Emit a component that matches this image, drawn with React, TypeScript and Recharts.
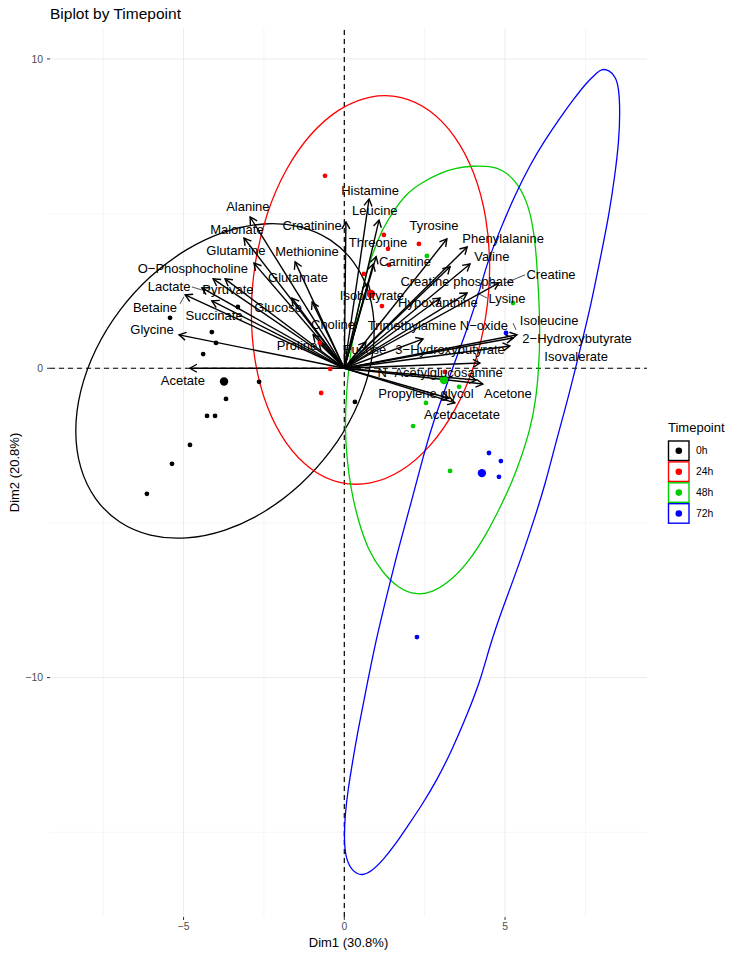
import React from 'react';
import { ComposedChart, XAxis, YAxis, Scatter, Line, ReferenceLine } from 'recharts';

const FONT = '"Liberation Sans", Arial, Helvetica, sans-serif';

const timepoints = ['0h', '24h', '48h', '72h'];
const groupColors = ['#000000', '#FF0000', '#00CD00', '#0000FF'];

// individuals (Dim1, Dim2)
const ind0h = [[-5.42, 1.63], [-3.31, 1.98], [-4.12, 1.17], [-3.99, 0.82], [-4.39, 0.46], [-2.65, -0.44], [-3.68, -0.99], [-4.27, -1.54], [-4.02, -1.54], [-4.80, -2.48], [-5.36, -3.09], [-6.14, -4.06], [0.33, -1.09]];
const ind24h = [[-0.60, 6.22], [1.23, 4.31], [2.32, 4.02], [1.36, 3.86], [1.39, 3.34], [0.61, 3.05], [1.17, 2.01], [-0.76, 0.82], [-0.44, -0.02], [-0.72, -0.80], [3.13, -0.12]];
const ind48h = [[2.57, 3.63], [5.25, 2.11], [3.57, -0.60], [2.54, -1.12], [2.14, -1.87], [3.29, -3.32]];
const ind72h = [[4.50, -2.74], [4.87, -3.00], [4.81, -3.51], [2.26, -8.69], [5.03, 1.14]];
const centroids = [[-3.74, -0.43], [0.83, 2.40], [3.10, -0.38], [4.28, -3.39]];

// concentration ellipse outlines
const ell0h = [[0.983, 1.226], [0.823, 2.432], [0.354, 3.445], [-0.392, 4.194], [-1.364, 4.630], [-2.496, 4.722], [-3.711, 4.465], [-4.926, 3.876], [-6.058, 2.994], [-7.030, 1.880], [-7.776, 0.611], [-8.245, -0.728], [-8.405, -2.046], [-8.245, -3.252], [-7.776, -4.265], [-7.030, -5.014], [-6.058, -5.450], [-4.926, -5.542], [-3.711, -5.285], [-2.496, -4.696], [-1.364, -3.814], [-0.392, -2.700], [0.354, -1.431], [0.823, -0.092]];
const ell24h = [[4.563, 3.295], [4.435, 4.902], [4.061, 6.347], [3.465, 7.532], [2.689, 8.377], [1.785, 8.822], [0.815, 8.840], [-0.155, 8.428], [-1.059, 7.613], [-1.835, 6.452], [-2.431, 5.025], [-2.805, 3.428], [-2.933, 1.769], [-2.805, 0.162], [-2.431, -1.283], [-1.835, -2.468], [-1.059, -3.313], [-0.155, -3.758], [0.815, -3.776], [1.785, -3.364], [2.689, -2.549], [3.465, -1.388], [4.061, 0.039], [4.435, 1.636]];
const ell48h = [[4.003, 6.541], [4.532, 6.541], [4.936, 6.411], [5.309, 6.088], [5.683, 5.441], [5.900, 4.471], [5.994, 3.340], [6.056, 2.208], [6.087, 1.141], [6.056, 0.107], [5.963, -1.025], [5.776, -1.995], [5.527, -2.803], [5.247, -3.611], [4.843, -4.517], [4.407, -5.390], [3.910, -6.198], [3.350, -6.845], [2.728, -7.265], [2.199, -7.329], [1.670, -7.103], [1.173, -6.586], [0.737, -5.875], [0.426, -4.905], [0.208, -3.935], [0.084, -2.965], [0.022, -1.995], [0.053, -1.025], [0.115, -0.217], [0.208, 0.592], [0.364, 1.562], [0.551, 2.532], [0.799, 3.501], [1.204, 4.568], [1.577, 5.150], [1.950, 5.668], [2.448, 6.023], [2.977, 6.314], [3.474, 6.476]];
const ell72h = [[7.984, 9.677], [8.233, 9.644], [8.451, 9.418], [8.544, 8.998], [8.575, 8.286], [8.544, 7.381], [8.420, 6.250], [8.233, 4.956], [7.953, 3.501], [7.673, 2.047], [7.331, 0.592], [6.989, -0.863], [6.616, -2.253], [6.243, -3.773], [5.900, -4.905], [5.589, -5.875], [5.278, -6.780], [4.905, -7.814], [4.532, -8.946], [4.221, -10.142], [3.816, -11.209], [3.350, -12.341], [2.883, -13.311], [2.417, -14.119], [1.950, -14.830], [1.577, -15.412], [1.204, -15.897], [0.862, -16.253], [0.551, -16.415], [0.271, -16.285], [0.053, -15.897], [-0.009, -15.251], [0.022, -14.442], [0.115, -13.634], [0.240, -12.826], [0.426, -11.694], [0.706, -10.239], [0.986, -8.784], [1.328, -7.329], [1.670, -5.875], [2.044, -4.484], [2.448, -2.868], [2.759, -1.768], [3.070, -0.863], [3.381, 0.042], [3.754, 1.077], [4.128, 2.208], [4.439, 3.404], [4.843, 4.471], [5.309, 5.603], [5.776, 6.573], [6.243, 7.381], [6.709, 8.093], [7.113, 8.674], [7.549, 9.256], [7.860, 9.547]];

// variables
const varNames = ['Acetate', 'Glycine', 'Betaine', 'Lactate', 'Succinate', 'Pyruvate', 'O\u2212Phosphocholine', 'Glutamine', 'Malonate', 'Alanine', 'Methionine', 'Glutamate', 'Glucose', 'Choline', 'Proline', 'Creatinine', 'Histamine', 'Leucine', 'Threonine', 'Carnitine', 'Isobutyrate', 'Tyrosine', 'Phenylalanine', 'Valine', 'Creatine phosphate', 'Creatine', 'Lysine', 'Hypoxanthine', 'Trimethylamine N\u2212oxide', 'Isoleucine', '2\u2212Hydroxybutyrate', 'Isovalerate', '3\u2212Hydroxybutyrate', 'N\u2212Acetylglucosamine', 'Acetone', 'Propylene glycol', 'Acetoacetate', 'Fucose'];
const varDim1 = [-4.80, -5.14, -4.95, -4.43, -4.12, -3.71, -4.08, -2.81, -3.12, -2.93, -1.53, -1.63, -1.00, -0.97, -0.79, 0.05, 0.77, 1.08, 0.90, 0.99, 0.74, 3.19, 3.82, 3.91, 3.29, 4.81, 3.82, 2.98, 2.45, 5.37, 5.25, 5.15, 4.22, 4.10, 4.31, 3.25, 3.44, 0.67];
const varDim2 = [0.00, 1.08, 2.37, 2.60, 2.18, 2.89, 2.89, 3.40, 4.21, 4.89, 3.44, 2.27, 2.14, 1.08, 0.82, 4.73, 5.47, 4.79, 3.37, 3.61, 2.76, 4.18, 3.92, 3.37, 3.28, 2.76, 2.43, 2.27, 0.95, 1.08, 0.98, 0.72, 0.17, -0.38, -0.51, -0.97, -1.12, 0.85];
const labDim1 = [-5.02, -5.98, -5.89, -5.45, -4.05, -3.62, -4.71, -3.37, -3.34, -3.00, -1.16, -1.44, -2.06, -0.35, -1.47, -1.00, 0.80, 0.95, 1.05, 1.89, 0.86, 2.79, 4.94, 4.59, 3.51, 6.43, 5.06, 2.91, 2.91, 6.37, 7.24, 7.21, 3.29, 2.98, 5.09, 2.54, 3.66, 0.64];
const labDim2 = [-0.38, 1.24, 1.95, 2.63, 1.69, 2.56, 3.24, 3.82, 4.50, 5.22, 3.79, 2.95, 1.98, 1.40, 0.72, 4.63, 5.76, 5.09, 4.05, 3.44, 2.34, 4.63, 4.21, 3.60, 2.82, 3.02, 2.24, 2.11, 1.37, 1.56, 0.95, 0.37, 0.62, -0.15, -0.83, -0.80, -1.51, 0.62];
// label leader segments [x1, y1, x2, y2]
const leaders = [[-4.74, 2.63, -4.43, 2.53], [-5.11, 2.08, -4.99, 2.31], [5.00, 2.75, 5.62, 3.02], [4.13, 2.43, 4.44, 2.27], [5.25, 1.46, 5.34, 1.24], [4.07, 0.49, 4.16, 0.20]];

const xTicks = [-5, 0, 5];
const yTicks = [-10, 0, 10];
const xMinor = [-7.5, -2.5, 2.5, 7.5];
const yMinor = [-15, -5, 5];
const xDomain = [-9.154, 9.415];
const yDomain = [-17.74, 11.0];

const toXY = (arr: number[][]) => arr.map(([x, y]) => ({ x, y }));
const groups = [ind0h, ind24h, ind48h, ind72h].map(toXY);
const ellipses = [ell0h, ell24h, ell48h, ell72h].map(toXY);
const labels = varNames.map((name, i) => ({ x: labDim1[i], y: labDim2[i], name }));

const fmt = (v: number) => String(v).replace('-', '\u2212');

const ArrowShape = (p: any) => {
  const { x1, y1, x2, y2 } = p;
  const ang = Math.atan2(y2 - y1, x2 - x1);
  const L = 8;
  const a = Math.PI / 6;
  const ax1 = x2 - L * Math.cos(ang - a);
  const ay1 = y2 - L * Math.sin(ang - a);
  const ax2 = x2 - L * Math.cos(ang + a);
  const ay2 = y2 - L * Math.sin(ang + a);
  return (
    <g>
      <line x1={x1} y1={y1} x2={x2} y2={y2} stroke="#000" strokeWidth={1.4} />
      <polyline points={`${ax1},${ay1} ${x2},${y2} ${ax2},${ay2}`} fill="none" stroke="#000" strokeWidth={1.4} strokeLinejoin="miter" />
    </g>
  );
};

const dot = (color: string, r: number) => (p: any) => <circle cx={p.cx} cy={p.cy} r={r} fill={color} />;

const labelShape = (p: any) => (
  <text x={p.cx} y={p.cy} textAnchor="middle" dominantBaseline="central" fontSize={13} fontFamily={FONT} fill="#000">
    {p.payload.name}
  </text>
);

export default function App() {
  return (
    <div style={{ position: 'absolute', left: 0, top: 0, width: 732, height: 956, background: '#fff' }}>
      <ComposedChart width={732} height={956} margin={{ top: 28, right: 85, bottom: 0, left: 0 }}>
        <XAxis
          type="number"
          dataKey="x"
          domain={xDomain}
          allowDataOverflow
          ticks={xTicks}
          tickFormatter={fmt}
          axisLine={false}
          tickSize={3}
          tickMargin={3}
          tickLine={{ stroke: '#333333' }}
          tick={{ fill: '#4d4d4d', fontSize: 10.4, fontFamily: FONT }}
          height={39}
        />
        <YAxis
          type="number"
          dataKey="y"
          domain={yDomain}
          allowDataOverflow
          ticks={yTicks}
          tickFormatter={fmt}
          axisLine={false}
          tickSize={3}
          tickMargin={4}
          tickLine={{ stroke: '#333333' }}
          tick={{ fill: '#4d4d4d', fontSize: 10.4, fontFamily: FONT }}
          width={50}
        />
        {xMinor.map((v) => (
          <ReferenceLine key={'xm' + v} x={v} stroke="#f3f3f3" strokeWidth={0.8} />
        ))}
        {yMinor.map((v) => (
          <ReferenceLine key={'ym' + v} y={v} stroke="#f3f3f3" strokeWidth={0.8} />
        ))}
        {xTicks.map((v) => (
          <ReferenceLine key={'xM' + v} x={v} stroke="#ebebeb" strokeWidth={1} />
        ))}
        {yTicks.map((v) => (
          <ReferenceLine key={'yM' + v} y={v} stroke="#ebebeb" strokeWidth={1} />
        ))}
        <ReferenceLine x={0} stroke="#000" strokeWidth={1.2} strokeDasharray="5 4" />
        <ReferenceLine y={0} stroke="#000" strokeWidth={1.2} strokeDasharray="5 4" />
        {ellipses.map((d, i) => (
          <Line
            key={'e' + i}
            data={d}
            dataKey="y"
            type="basisClosed"
            stroke={groupColors[i]}
            strokeWidth={1.3}
            dot={false}
            activeDot={false}
            isAnimationActive={false}
          />
        ))}
        {groups.map((d, i) => (
          <Scatter key={'g' + i} data={d} dataKey="y" shape={dot(groupColors[i], 2.4)} isAnimationActive={false} />
        ))}
        {centroids.map((c, i) => (
          <Scatter key={'c' + i} data={[{ x: c[0], y: c[1] }]} dataKey="y" shape={dot(groupColors[i], 4.2)} isAnimationActive={false} />
        ))}
        {varNames.map((n, i) => (
          <ReferenceLine
            key={'v' + i}
            segment={[{ x: 0, y: 0 }, { x: varDim1[i], y: varDim2[i] }]}
            shape={ArrowShape}
          />
        ))}
        {leaders.map((s, i) => (
          <ReferenceLine key={'l' + i} segment={[{ x: s[0], y: s[1] }, { x: s[2], y: s[3] }]} stroke="#000" strokeWidth={0.7} />
        ))}
        <Scatter data={labels} dataKey="y" shape={labelShape} isAnimationActive={false} />
      </ComposedChart>
      <svg width={732} height={956} style={{ position: 'absolute', left: 0, top: 0, pointerEvents: 'none' }}>
        <text x={50} y={19} fontSize={15.5} fontFamily={FONT} fill="#000">Biplot by Timepoint</text>
        <text x={348.5} y={946.5} fontSize={13} fontFamily={FONT} fill="#000" textAnchor="middle">Dim1 (30.8%)</text>
        <text x={18.5} y={472.5} fontSize={13} fontFamily={FONT} fill="#000" textAnchor="middle" transform="rotate(-90 18.5 472.5)">Dim2 (20.8%)</text>
        <text x={668} y={431.5} fontSize={13} fontFamily={FONT} fill="#000">Timepoint</text>
        {timepoints.map((t, i) => (
          <g key={t}>
            <rect x={668.5} y={441 + i * 20.9} width={20.5} height={19.5} fill="#fff" stroke={groupColors[i]} strokeWidth={1.4} />
            <circle cx={678.8} cy={450.8 + i * 20.9} r={3.3} fill={groupColors[i]} />
            <text x={696} y={450.8 + i * 20.9} dominantBaseline="central" fontSize={10.4} fontFamily={FONT} fill="#000">{t}</text>
          </g>
        ))}
      </svg>
    </div>
  );
}
